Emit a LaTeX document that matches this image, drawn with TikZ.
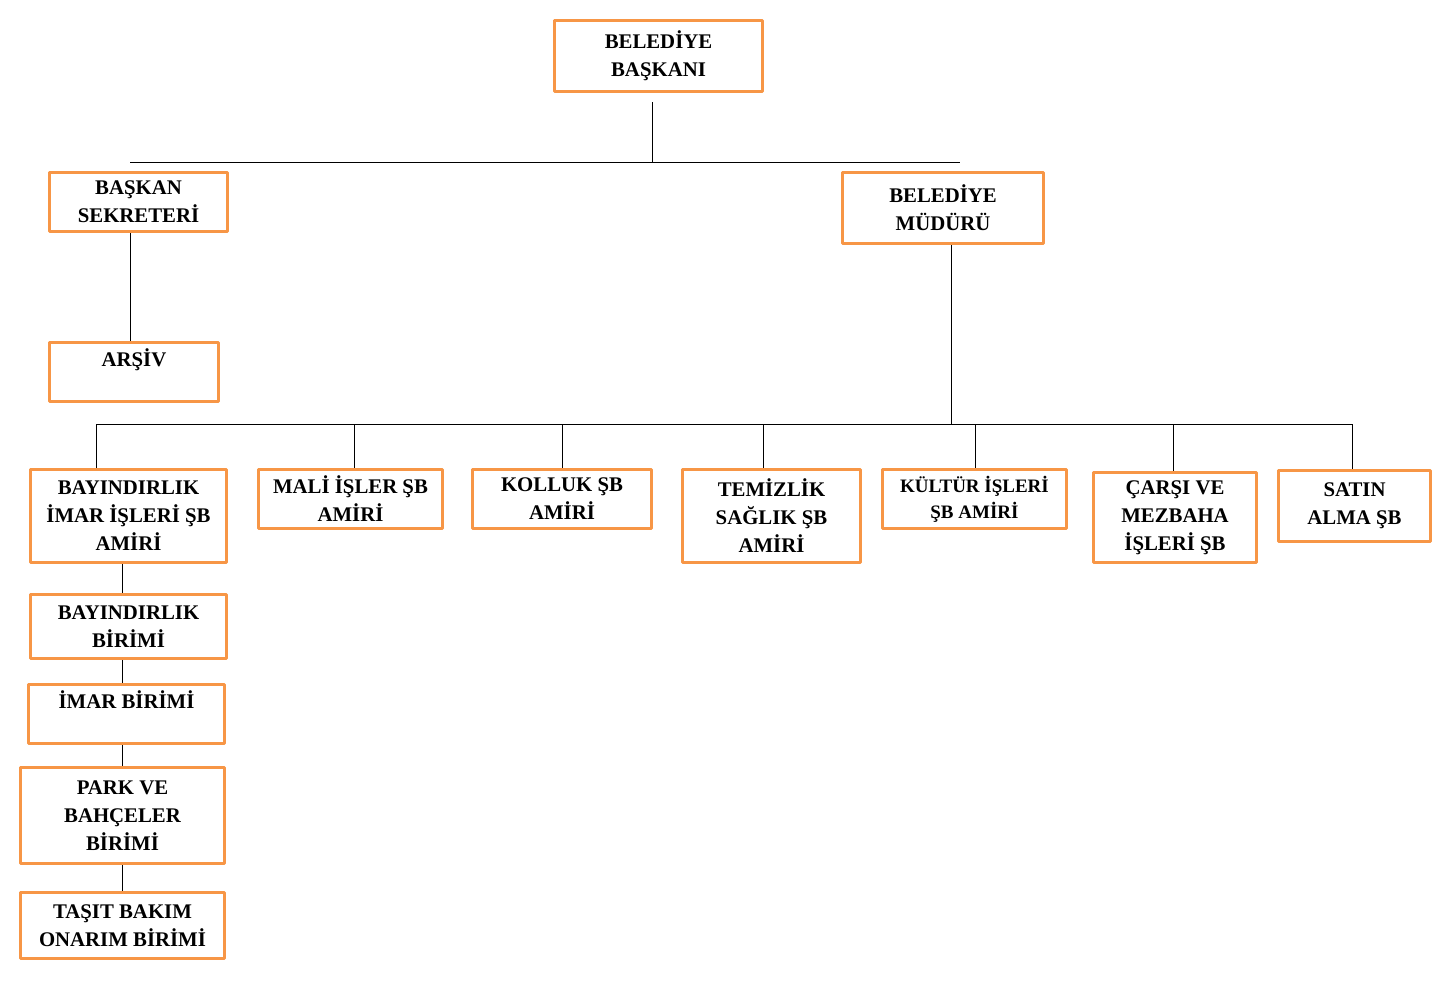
\documentclass[tikz,border=0pt]{standalone}
\usepackage{fontspec}
\setmainfont{Liberation Serif}
\definecolor{turuncu}{HTML}{F79646}
\tikzset{
  kutu/.style={draw=turuncu, line width=1.5pt, align=center, inner sep=0pt,
    font=\fontsize{10.4}{14}\selectfont\bfseries},
  hat/.style={line width=0.5pt}
}
\begin{document}
\begin{tikzpicture}[x=0.5pt, y=-0.5pt, line join=round]
				\def\bp{0.5pt}
				\useasboundingbox (0,0) rectangle (1440,986);
				% ust kademe
				\node[kutu, minimum width=208*\bp, minimum height=71*\bp] (baskani) at (658.5,56) {BELEDİYE\\BAŞKANI};
				\node[kutu, minimum width=178*\bp, minimum height=59*\bp] (sekreter) at (138.5,202) {BAŞKAN\\SEKRETERİ};
				\node[kutu, minimum width=201*\bp, minimum height=71*\bp] (mudur) at (943,208) {BELEDİYE\\MÜDÜRÜ};
				\node[kutu, minimum width=169*\bp, minimum height=59*\bp] (arsiv) at (134,372) {ARŞİV\\ \mbox{}};
				% sube amirlikleri
				\node[kutu, minimum width=196*\bp, minimum height=93*\bp] (bayindirlik) at (128.5,516) {BAYINDIRLIK\\İMAR İŞLERİ ŞB\\AMİRİ};
				\node[kutu, minimum width=184*\bp, minimum height=59*\bp] (mali) at (350.5,499) {MALİ İŞLER ŞB\\AMİRİ};
				\node[kutu, minimum width=179*\bp, minimum height=59*\bp] (kolluk) at (562,499) {KOLLUK ŞB\\AMİRİ};
				\node[kutu, minimum width=178*\bp, minimum height=93*\bp] (temizlik) at (771.5,516) {TEMİZLİK\\SAĞLIK ŞB\\AMİRİ};
				\node[kutu, minimum width=184*\bp, minimum height=59*\bp, font=\fontsize{9.5}{13}\selectfont\bfseries] (kultur) at (974.5,499) {KÜLTÜR İŞLERİ\\ŞB AMİRİ};
				\node[kutu, minimum width=163*\bp, minimum height=90*\bp] (carsi) at (1175,517.5) {ÇARŞI VE\\MEZBAHA\\İŞLERİ ŞB};
				\node[kutu, minimum width=152*\bp, minimum height=71*\bp] (satin) at (1354.5,506) {SATIN\\ALMA ŞB};
				% birimler
				\node[kutu, minimum width=196*\bp, minimum height=64*\bp] (birim1) at (128.5,626.5) {BAYINDIRLIK\\BİRİMİ};
				\node[kutu, minimum width=196*\bp, minimum height=59*\bp] (imar) at (126.5,714) {İMAR BİRİMİ\\ \mbox{}};
				\node[kutu, minimum width=204*\bp, minimum height=96*\bp] (park) at (122.5,815.5) {PARK VE\\BAHÇELER\\BİRİMİ};
				\node[kutu, minimum width=204*\bp, minimum height=66*\bp] (tasit) at (122.5,925.5) {TAŞIT BAKIM\\ONARIM BİRİMİ};
				% baglantilar
				\coordinate (ust) at (652,102);
				\coordinate (ustbag) at (652,162);
				\coordinate (altbag) at (951,424);
				\draw[hat] (ust) -- (ustbag);
				\draw[hat] (130,162) -- (960,162);
				\draw[hat] (sekreter.south -| 130,0) -- (arsiv.north -| 130,0);
				\draw[hat] (mudur.south -| 951,0) -- (altbag);
				\draw[hat] (96,424) -- (1352,424);
				\foreach \n/\xx in {bayindirlik/96, mali/354, kolluk/562, temizlik/763, kultur/975, carsi/1173, satin/1352}
					\draw[hat] (\xx,424) -- (\n.north -| \xx,0);
				\foreach \a/\b in {bayindirlik/birim1, birim1/imar, imar/park, park/tasit}
					\draw[hat] (\a.south -| 122,0) -- (\b.north -| 122,0);
\end{tikzpicture}
\end{document}
